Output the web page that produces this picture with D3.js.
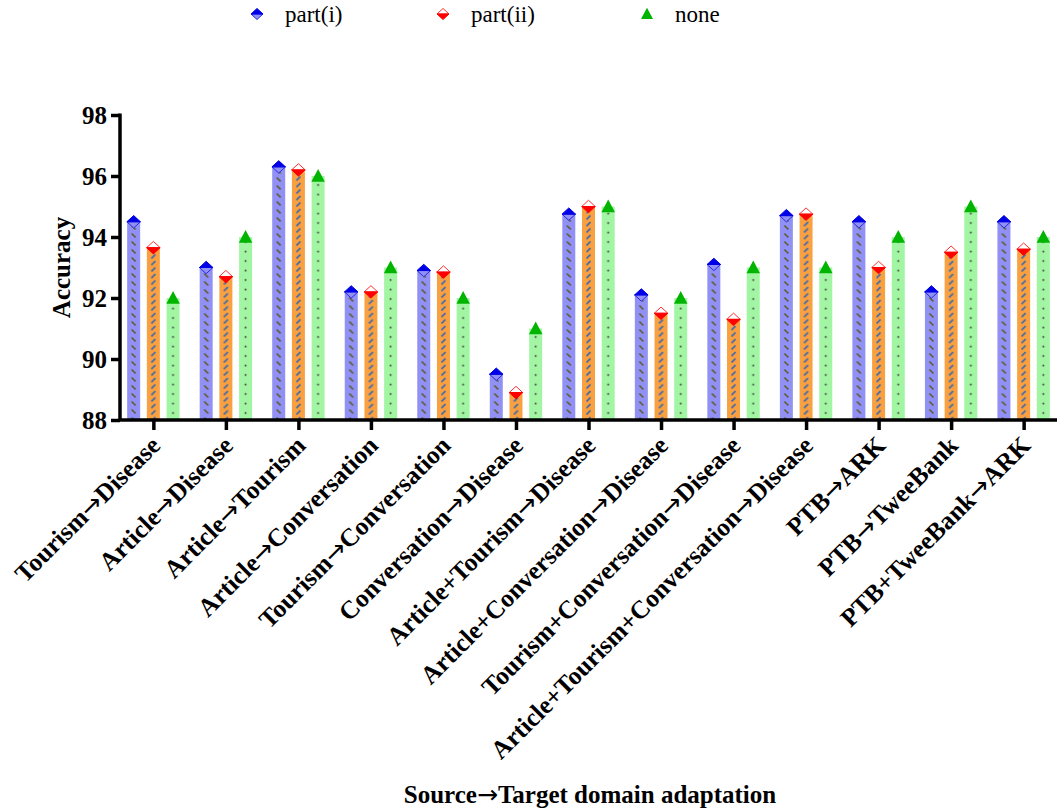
<!DOCTYPE html>
<html>
<head>
<meta charset="utf-8">
<script src="https://cdn.jsdelivr.net/npm/d3@7"></script>
<style>
  body { margin: 0; background: #ffffff; }
  .axis-label { font-family: "Liberation Serif", "Times New Roman", serif; font-weight: bold; }
  .arrow { font-family: "DejaVu Sans", sans-serif; font-weight: normal; }
</style>
</head>
<body>
<div class="chart"></div>
<script>
// Categories (source -> target)
var categories = [
  "Tourism→Disease",
  "Article→Disease",
  "Article→Tourism",
  "Article→Conversation",
  "Tourism→Conversation",
  "Conversation→Disease",
  "Article+Tourism→Disease",
  "Article+Conversation→Disease",
  "Tourism+Conversation→Disease",
  "Article+Tourism+Conversation→Disease",
  "PTB→ARK",
  "PTB→TweeBank",
  "PTB+TweeBank→ARK"
];

// Series values
var partI  = [94.5, 93.0, 96.3, 92.2, 92.9, 89.5, 94.75, 92.1, 93.1, 94.7, 94.5, 92.2, 94.5];
var partII = [93.65, 92.7, 96.2, 92.2, 92.85, 88.9, 95.0, 91.5, 91.3, 94.75, 93.0, 93.5, 93.6];
var none   = [92.0, 94.0, 96.0, 93.0, 92.0, 91.0, 95.0, 92.0, 93.0, 93.0, 94.0, 95.0, 94.0];

var seriesNames = ["part(i)", "part(ii)", "none"];
var yTicks = [88, 90, 92, 94, 96, 98];

var width = 1057;
var height = 812;
var margin = { top: 115, right: 0, bottom: 392, left: 120 };

var svg = d3.select(".chart")
  .append("svg")
  .attr("width", width)
  .attr("height", height);

// Pola isi batang
var defs = svg.append("defs");

var pBlue = defs.append("pattern")
  .attr("id", "pat-blue")
  .attr("patternUnits", "userSpaceOnUse")
  .attr("width", 13).attr("height", 8);
pBlue.append("rect").attr("width", 13).attr("height", 8).attr("fill", "#9191f5");
pBlue.append("line")
  .attr("x1", 4.5).attr("y1", 1.5).attr("x2", 8.5).attr("y2", 5.5)
  .attr("stroke", "#5f5c30").attr("stroke-width", 1.7);

var pOrange = defs.append("pattern")
  .attr("id", "pat-orange")
  .attr("patternUnits", "userSpaceOnUse")
  .attr("width", 13).attr("height", 6.5);
pOrange.append("rect").attr("width", 13).attr("height", 6.5).attr("fill", "#f9a040");
pOrange.append("line")
  .attr("x1", 8.5).attr("y1", 1).attr("x2", 4.5).attr("y2", 5)
  .attr("stroke", "#3a68b0").attr("stroke-width", 1.7);

var pGreen = defs.append("pattern")
  .attr("id", "pat-green")
  .attr("patternUnits", "userSpaceOnUse")
  .attr("width", 13).attr("height", 9.5);
pGreen.append("rect").attr("width", 13).attr("height", 9.5).attr("fill", "#a2f5a2");
pGreen.append("circle")
  .attr("cx", 6.5).attr("cy", 4.5).attr("r", 1)
  .attr("fill", "#404040");

var x = d3.scalePoint()
  .domain(categories)
  .range([margin.left, width - margin.right])
  .padding(0.46);

var y = d3.scaleLinear()
  .domain([88, 98])
  .range([height - margin.bottom, margin.top]);

var barWidth = 13;
var barGap = 19.7;

var series = [
  { name: seriesNames[0], values: partI,  fill: "url(#pat-blue)",   offset: -barGap, marker: "diamondBlue" },
  { name: seriesNames[1], values: partII, fill: "url(#pat-orange)", offset: 0,       marker: "diamondRed" },
  { name: seriesNames[2], values: none,   fill: "url(#pat-green)",  offset: barGap,  marker: "triangle" }
];

// Fungsi menggambar penanda
function drawMarker(g, type, s) {
  var h = s * 0.46;
  var w = s / 2;
  if (type === "diamondBlue") {
    g.append("path")
      .attr("d", "M" + (-w) + ",0 L0," + h + " L" + w + ",0 Z")
      .attr("fill", "#9191f5").attr("stroke", "#2a2ae0").attr("stroke-width", 1);
    g.append("path")
      .attr("d", "M" + (-w) + ",0 L0," + (-h) + " L" + w + ",0 Z")
      .attr("fill", "#0000e6").attr("stroke", "#0000e6").attr("stroke-width", 1);
  } else if (type === "diamondRed") {
    g.append("path")
      .attr("d", "M" + (-w) + ",0 L0," + (-h) + " L" + w + ",0 Z")
      .attr("fill", "#ffffff").attr("stroke", "#ff3030").attr("stroke-width", 1);
    g.append("path")
      .attr("d", "M" + (-w) + ",0 L0," + h + " L" + w + ",0 Z")
      .attr("fill", "#ff0000").attr("stroke", "#ff0000").attr("stroke-width", 1);
  } else {
    g.append("path")
      .attr("d", "M" + (-w) + "," + (s * 0.42) + " L0," + (-s * 0.52) + " L" + w + "," + (s * 0.42) + " Z")
      .attr("fill", "#00b400");
  }
}

// Teks dengan panah memakai font lain
function arrowText(sel, label) {
  sel.text(null);
  var parts = label.split("→");
  parts.forEach(function(p, i) {
    if (i > 0) sel.append("tspan").attr("class", "arrow").text("→");
    sel.append("tspan").text(p);
  });
}

// Batang
series.forEach(function(ser) {
  var bars = svg.append("g").selectAll("g")
    .data(ser.values)
    .enter().append("g")
    .attr("transform", function(d, i) {
      return "translate(" + (x(categories[i]) + ser.offset - barWidth / 2) + ",0)";
    });

  bars.append("rect")
    .attr("x", 0)
    .attr("y", function(d) { return y(d); })
    .attr("width", barWidth)
    .attr("height", function(d) { return y(88) - y(d); })
    .attr("fill", ser.fill);
});

// Penanda di atas batang
series.forEach(function(ser) {
  ser.values.forEach(function(d, i) {
    var g = svg.append("g")
      .attr("transform", "translate(" + (x(categories[i]) + ser.offset) + "," + y(d) + ")");
    drawMarker(g, ser.marker, 13.5);
  });
});

// Sumbu Y
var yAxis = svg.append("g")
  .attr("transform", "translate(" + margin.left + ",0)")
  .call(d3.axisLeft(y).tickValues(yTicks).tickSize(9).tickPadding(4));
yAxis.select(".domain").attr("stroke-width", 3.5).attr("d", "M0," + (y(98) - 1.5) + "V" + y(88));
yAxis.selectAll(".tick line").attr("stroke-width", 3.5);
yAxis.selectAll(".tick text")
  .attr("class", "axis-label")
  .style("font-size", "25px")
  .attr("fill", "#000");

// Sumbu X
var xAxis = svg.append("g")
  .attr("transform", "translate(0," + y(88) + ")")
  .call(d3.axisBottom(x).tickSize(10).tickSizeOuter(0));
xAxis.select(".domain").attr("stroke-width", 3.5).attr("d", "M" + (margin.left - 1.5) + ",0H" + width);
xAxis.selectAll(".tick line").attr("stroke-width", 3.5);
xAxis.selectAll(".tick text")
  .attr("class", "axis-label")
  .style("font-size", "25.5px")
  .attr("fill", "#000")
  .attr("text-anchor", "end")
  .attr("dy", null)
  .attr("y", 0)
  .attr("transform", "translate(8,27) rotate(-45)")
  .each(function(d) { arrowText(d3.select(this), d); });

// Judul sumbu
svg.append("text")
  .attr("class", "axis-label")
  .attr("transform", "translate(70," + ((y(88) + y(98)) / 2) + ") rotate(-90)")
  .attr("text-anchor", "middle")
  .style("font-size", "25px")
  .text("Accuracy");

svg.append("text")
  .attr("class", "axis-label")
  .attr("x", 590)
  .attr("y", 803)
  .attr("text-anchor", "middle")
  .style("font-size", "25px")
  .call(arrowText, "Source→Target domain adaptation");

// Legenda
var legendX = [257, 443, 647];
series.forEach(function(ser, i) {
  var g = svg.append("g").attr("transform", "translate(" + legendX[i] + ",14)");
  drawMarker(g, ser.marker, 12);
  svg.append("text")
    .attr("x", legendX[i] + 28)
    .attr("y", 22)
    .style("font-family", "'Liberation Serif', 'Times New Roman', serif")
    .style("font-size", "23px")
    .attr("fill", "#000")
    .text(ser.name);
});
</script>
</body>
</html>
